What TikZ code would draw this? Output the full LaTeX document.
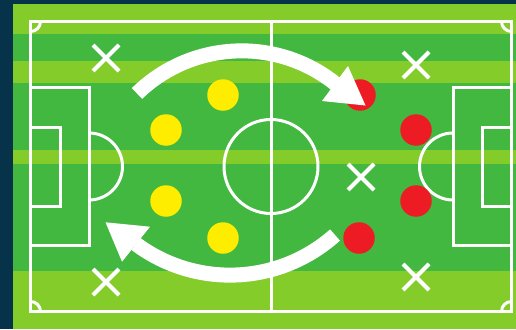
\documentclass[tikz,border=0pt]{standalone}
\usetikzlibrary{shapes.misc}
\definecolor{navy}{RGB}{7,51,74}
\definecolor{grasslight}{RGB}{132,204,41}
\definecolor{grassdark}{RGB}{66,184,64}
\definecolor{teamyellow}{RGB}{255,237,0}
\definecolor{teamred}{RGB}{237,28,36}
\tikzset{
  pitchline/.style={draw=white, line width=3pt},
  player/.style={circle, minimum size=31.5pt, inner sep=0pt},
  home/.style={player, fill=teamyellow},
  away/.style={player, fill=teamred},
  spot/.style={cross out, draw=white, line width=4pt, minimum size=22pt, inner sep=0pt},
  runband/.style={draw=white, line width=15pt},
}
\begin{document}
\begin{tikzpicture}[x=1pt, y=-1pt]
  \fill[navy] (0,0) rectangle (516,329);
  \fill[grasslight] (13,4) rectangle (516,329);
  \foreach \top/\bot in {34/61, 83/150, 164/271}
    \fill[grassdark] (13,\top) rectangle (516,\bot);

  % pitch markings
  \draw[pitchline] (30.5,21.5) rectangle (511.5,311.5);
  \draw[pitchline] (271,21.5) -- (271,311.5);
  \draw[pitchline] (271,166.5) circle[radius=47];
  \draw[pitchline] (30.5,87.5) rectangle (89,245.5);
  \draw[pitchline] (453,87.5) rectangle (511.5,245.5);
  \draw[pitchline] (30.5,127) rectangle (60,206);
  \draw[pitchline] (482,127) rectangle (511.5,206);
  \draw[pitchline] (89,133) arc[start angle=-90, end angle=90, radius=33.5];
  \draw[pitchline] (453,133) arc[start angle=-90, end angle=-270, radius=33.5];
  \draw[pitchline] (40.5,21.5) arc[start angle=0, end angle=90, radius=10];
  \draw[pitchline] (501.5,21.5) arc[start angle=180, end angle=90, radius=10];
  \draw[pitchline] (40.5,311.5) arc[start angle=0, end angle=-90, radius=10];
  \draw[pitchline] (501.5,311.5) arc[start angle=180, end angle=270, radius=10];

  % empty spots
  \node[spot] (s1) at (106,58) {};
  \node[spot] (s2) at (106,282) {};
  \node[spot] (s3) at (416,65) {};
  \node[spot] (s4) at (416,277) {};
  \node[spot] (s5) at (361,177) {};

  % players
  \node[home] (h1) at (223,95) {};
  \node[home] (h2) at (166,130) {};
  \node[home] (h3) at (166,201) {};
  \node[home] (h4) at (223,238) {};
  \node[away] (a1) at (360,95) {};
  \node[away] (a2) at (416,130) {};
  \node[away] (a3) at (416,201) {};
  \node[away] (a4) at (359,238) {};

  % switch of play
  \coordinate (topstart) at (137,93.5);
  \coordinate (toptip) at (365.5,105.5);
  \coordinate (botstart) at (335,235);
  \coordinate (bottip) at (105.5,222.3);
  \draw[runband] (topstart) arc[start angle=-134.3, end angle=-51.1, radius=150];
  \fill[white] (322,101) -- (toptip) -- (348,66) -- cycle;
  \draw[runband] (botstart) arc[start angle=48.2, end angle=126.6, radius=157.6];
  \fill[white] (150,226.7) -- (bottip) -- (122,261.7) -- cycle;
\end{tikzpicture}
\end{document}
